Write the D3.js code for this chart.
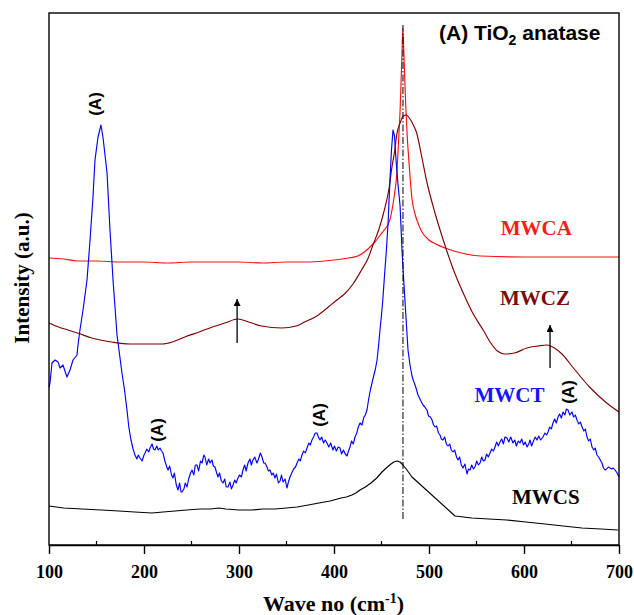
<!DOCTYPE html>
<html>
<head>
<meta charset="utf-8">
<script src="https://cdn.jsdelivr.net/npm/d3@7"></script>
<style>
  html, body { margin: 0; padding: 0; background: #fff; }
  svg { display: block; }
</style>
</head>
<body>
<script>
// Raman spectra, wave number (cm-1) vs intensity (a.u., offset stacked)
const waveTicks = [100, 200, 300, 400, 500, 600, 700];
const minorTicks = [150, 250, 350, 450, 550, 650];

const mwca = [[100,287],[115,286],[130,284],[150,284],[175,283],[200,283],[225,282],[250,283],[275,283],[300,283],[325,282],[350,283],[375,283],[400,285],[415,287],[425,289],[432,293],[438,298],[443,303],[448,309],[452,314],[456,319],[459,326],[462,340],[464,353],[466,370],[468,405],[469.5,433],[470.5,460],[471.5,490],[472.5,517],[473.5,493],[474.5,465],[475.5,440],[477,410],[479,382],[482,347],[485,332],[488,323],[491,316],[494,311],[500,305],[507,301],[517,297],[530,293],[554,289],[600,288],[650,288],[700,288]];

const mwcz = [[100,222],[110,218],[120,215],[130,212],[145,207],[166,203],[185,201],[201,201],[219,201],[230,203],[243,208],[258,213],[272,218],[285,222],[299,226],[310,223],[324,219],[345,217],[360,219],[369,223],[382,229],[394,238],[403,245],[411,251],[420,261],[429,275],[436,287],[441,300],[447,315],[453,335],[458,357],[461,378],[464,395],[466,410],[470,423],[473,429],[476,430],[480,426],[484,419],[487,412],[492,390],[498,362],[506,333],[515,305],[525,277],[536,252],[546,232],[557,215],[565,202],[572,194],[580,191],[590,192],[603,197],[615,199],[624,200],[632,197],[640,191],[652,177],[669,158],[687,142],[700,133]];

const mwct = [[100,158],[101,162],[103.2,182],[106.3,185],[109.5,183],[111.6,177],[114.7,180],[118.9,168],[122.1,175],[125.3,185],[129.5,190],[130.5,200],[132.6,215],[135.8,235],[140,265],[143.2,305],[146.3,348],[148.4,385],[151.6,408],[154.7,420],[156.8,408],[161.1,372],[164.2,315],[167.4,265],[171.6,210],[176.8,172],[179.5,155],[182.1,135],[184,118],[186.3,105],[188.5,96],[190.5,90],[192.5,86],[194,90],[195.8,87],[198,84],[200,90],[201.1,92],[203,96],[205,93],[206.3,97],[208.5,101],[210,96],[211.6,95],[213.5,99],[215,95],[216.8,97],[218.5,94],[220,92],[222,84],[224,78],[225.3,75],[227,79],[229,70],[230.5,67],[232,72],[234,60],[235.8,55],[237.5,62],[239,53],[240,53],[242,56],[243.5,62],[245.3,58],[247,66],[249,72],[250.5,75],[252.5,70],[254,80],[255.8,80],[257.5,74],[259.5,84],[261.1,82],[263,90],[264.2,88],[266,80],[268,86],[269.5,82],[271.5,85],[273,79],[274.7,78],[276.5,72],[277.9,68],[279.5,72],[281.5,64],[283.2,62],[285,66],[286.5,58],[288.4,58],[290.5,63],[292,56],[293.7,60],[295.5,65],[297,62],[298.9,67],[300.5,70],[302.5,68],[304.2,75],[306,80],[307.5,74],[309.5,82],[311.5,86],[313,80],[314.7,85],[316.5,88],[318.9,82],[320.5,86],[322.5,92],[324.2,88],[326,82],[327.4,82],[329.5,78],[331,74],[332.6,75],[334.5,70],[336,72],[337.9,67],[339.5,71],[341.5,62],[343.2,64],[344.8,70],[346.3,63],[348.5,66],[350.5,57],[352,63],[353.7,68],[355.5,72],[357.5,76],[359.5,78],[361.1,82],[363,86],[364.5,84],[366.3,90],[368,94],[369.8,92],[371.6,97],[373.5,102],[375,100],[376.8,105],[378.5,108],[380.3,112],[382.1,112],[383.6,108],[385.3,105],[387,108],[389,102],[390.8,105],[392.6,102],[394.5,98],[396.5,102],[398.9,95],[400.5,99],[402.5,94],[404.5,98],[406.3,97],[408,91],[410,95],[411.8,91],[413.7,89],[415.3,94],[416.8,98],[418.5,104],[420.3,101],[422.1,108],[424,112],[425.6,118],[427.4,122],[429.5,120],[431.5,128],[433,130],[434.7,135],[436.5,146],[438.3,155],[440,162],[442,170],[443.6,176],[445.3,185],[446.8,198],[448.4,215],[450,230],[451.6,248],[453.2,270],[454.8,290],[456.8,320],[458.9,365],[460.5,395],[462.1,415],[463.7,409],[465.3,385],[467.4,360],[469.5,340],[471.6,295],[473.7,260],[475.8,227],[477.9,195],[480,180],[482.1,169],[483.7,164],[485.3,160],[487,155],[488.4,150],[490,147],[492,143],[493.7,140],[495.7,138],[497.9,135],[499.5,129],[501.5,128],[503.2,125],[504.8,120],[506.3,118],[508,119],[510,112],[511.6,110],[513,106],[514.7,105],[516.5,108],[518.3,101],[520,99],[521.8,101],[523.5,95],[525.3,93],[527,95],[529,88],[530.5,85],[532.3,88],[534,80],[535.8,77],[537.8,81],[540,71],[541.6,76],[543.2,75],[545,80],[546.8,76],[548.4,78],[550.2,84],[552,80],[553.7,82],[555.5,88],[557.3,84],[558.9,85],[560.6,91],[562.4,88],[564.2,92],[566,96],[567.8,94],[569.5,98],[571.2,103],[573,99],[574.7,103],[576.5,106],[578.3,101],[580,108],[582.1,107],[584,103],[586,108],[588.4,102],[590.3,105],[592,99],[594,104],[595.8,102],[597.6,106],[599.5,100],[601.3,103],[603.2,98],[605,101],[606.3,105],[608,99],[610,104],[611.8,108],[613.7,105],[615.5,109],[617.5,105],[620,108],[622,112],[623.8,110],[625.3,113],[627,118],[628.8,116],[630.5,122],[632.3,126],[634,122],[635.8,128],[637.5,131],[639.3,127],[641.1,133],[643,130],[644.6,136],[646.3,135],[648.3,130],[650.5,133],[652.3,128],[654,130],[655.8,125],[657.6,121],[659.4,123],[661.1,118],[663,114],[664.6,116],[666.3,108],[668,104],[669.8,106],[671.6,98],[673.5,95],[675,97],[676.8,90],[678.5,88],[680.3,85],[682.1,82],[683.7,77],[685.3,75],[687,76],[688.8,78],[690.5,77],[692.3,76],[694,77],[695.8,75],[698,72],[700,68]];

const mwcs = [[100,39],[115.3,37],[134.7,36],[155,35],[173.7,34],[190,33],[208.4,32],[220,33],[232.6,34],[245,35],[258.9,36],[270,36],[278.9,37],[286.3,36],[300,35],[313.7,35],[325,36],[337.9,36],[350,37],[361.1,38],[373,40],[384.2,42],[396,44],[407.4,47],[413,48],[418.9,50],[423,52],[427.4,55],[433,58],[438.9,62],[445,67],[450.5,73],[455,77],[460,81],[463,83],[466.3,84],[469.5,83],[472.6,80],[476,76],[482.1,68],[527.4,29],[545,27],[563.2,26],[582,25],[602.1,23],[622,21],[641.1,19],[661,17],[681.1,16],[698.9,15]];

const seriesNames = ["MWCA", "MWCZ", "MWCT", "MWCS"];
const seriesData = [mwca, mwcz, mwct, mwcs];
const seriesColors = ["#ff1010", "#800000", "#0000ff", "#000000"];
const textColors = ["#ff1a1a", "#7a0e0e", "#1414ff", "#000000"];
// smooth spectra get a monotone curve; the noisy and the kinked ones stay linear
const seriesSmooth = [true, true, false, false];
// label anchors [wave number, intensity]
const seriesLabelAt = [[613, 310], [611.6, 240], [584.7, 143], [623, 41]];

const anataseMarks = [[148.4, 441], [213.7, 115], [384.2, 130], [646.3, 153]];
const arrows = [[298, 202, 246], [627.4, 177, 220]];
const guideLine = [472.6, 26, 520];

const W = 634, H = 615;
const margin = { left: 49, right: 15, top: 13, bottom: 70 };
const iw = W - margin.left - margin.right;   // 570
const ih = H - margin.top - margin.bottom;   // 532

const svg = d3.select("body").append("svg").attr("width", W).attr("height", H);
const g = svg.append("g").attr("transform", `translate(${margin.left},${margin.top})`);

const x = d3.scaleLinear().domain([100, 700]).range([0, iw]);
const y = d3.scaleLinear().domain([0, 532]).range([ih, 0]);

const smoothLine = d3.line().x(d => x(d[0])).y(d => y(d[1])).curve(d3.curveMonotoneX);
const rawLine = d3.line().x(d => x(d[0])).y(d => y(d[1]));

// curves
seriesData.forEach((s, i) => {
  g.append("path").datum(s)
    .attr("d", seriesSmooth[i] ? smoothLine : rawLine)
    .attr("fill", "none")
    .attr("stroke", seriesColors[i])
    .attr("stroke-width", 1.15)
    .attr("stroke-linejoin", "round");
});

// dash-dot guide at the main Eg mode
g.append("line")
  .attr("x1", x(guideLine[0])).attr("x2", x(guideLine[0]))
  .attr("y1", y(guideLine[1])).attr("y2", y(guideLine[2]))
  .attr("stroke", "#000").attr("stroke-width", 1)
  .attr("stroke-dasharray", "7,2,1.5,2");

// arrows
svg.append("defs").append("marker")
  .attr("id", "head").attr("viewBox", "0 0 10 10")
  .attr("refX", 10).attr("refY", 5)
  .attr("markerWidth", 7).attr("markerHeight", 7)
  .attr("markerUnits", "userSpaceOnUse")
  .attr("orient", "auto")
  .append("path").attr("d", "M0,0 L10,5 L0,10 z").attr("fill", "#000");

arrows.forEach(a => {
  g.append("line")
    .attr("x1", x(a[0])).attr("x2", x(a[0]))
    .attr("y1", y(a[1])).attr("y2", y(a[2]))
    .attr("stroke", "#000").attr("stroke-width", 1.3)
    .attr("marker-end", "url(#head)");
});

// (A) anatase markers
anataseMarks.forEach(m => {
  g.append("text")
    .attr("transform", `translate(${x(m[0]) + 6},${y(m[1])}) rotate(-90)`)
    .attr("text-anchor", "middle")
    .attr("font-family", "Liberation Sans, Arial, sans-serif")
    .attr("font-weight", "bold")
    .attr("font-size", 17)
    .text("(A)");
});

// sample labels
seriesNames.forEach((n, i) => {
  g.append("text")
    .attr("x", x(seriesLabelAt[i][0])).attr("y", y(seriesLabelAt[i][1]))
    .attr("text-anchor", "middle")
    .attr("font-family", "Liberation Serif, Times New Roman, serif")
    .attr("font-weight", "bold")
    .attr("font-size", 21)
    .attr("fill", textColors[i])
    .text(n);
});

// frame
g.append("rect").attr("x", 0).attr("y", 0).attr("width", iw).attr("height", ih)
  .attr("fill", "none").attr("stroke", "#000").attr("stroke-width", 1.4);

// bottom axis
const xAxis = d3.axisBottom(x).tickValues(waveTicks).tickSize(9).tickSizeOuter(0).tickPadding(11)
  .tickFormat(d3.format("d"));
const ax = g.append("g").attr("transform", `translate(0,${ih})`).call(xAxis);
ax.select(".domain").attr("stroke-width", 1.4);
ax.selectAll(".tick line").attr("stroke-width", 1.4);
ax.selectAll(".tick text")
  .attr("font-family", "Liberation Serif, Times New Roman, serif")
  .attr("font-weight", "bold").attr("font-size", 18).attr("fill", "#000");

// minor ticks pointing inward
g.append("g").selectAll("line").data(minorTicks).join("line")
  .attr("x1", d => x(d)).attr("x2", d => x(d))
  .attr("y1", ih).attr("y2", ih - 4)
  .attr("stroke", "#000").attr("stroke-width", 1.2);

// axis titles
const xt = svg.append("text")
  .attr("x", 333.5).attr("y", 611)
  .attr("text-anchor", "middle")
  .attr("font-family", "Liberation Serif, Times New Roman, serif")
  .attr("font-weight", "bold").attr("font-size", 22);
xt.append("tspan").text("Wave no (cm");
xt.append("tspan").attr("dy", -8).attr("font-size", 14).text("-1");
xt.append("tspan").attr("dy", 8).text(")");

svg.append("text")
  .attr("transform", "translate(29,278) rotate(-90)")
  .attr("text-anchor", "middle")
  .attr("font-family", "Liberation Serif, Times New Roman, serif")
  .attr("font-weight", "bold").attr("font-size", 21)
  .text("Intensity (a.u.)");

// panel title
const tt = svg.append("text")
  .attr("x", 439).attr("y", 40)
  .attr("font-family", "Liberation Sans, Arial, sans-serif")
  .attr("font-weight", "bold").attr("font-size", 21);
tt.append("tspan").text("(A) TiO");
tt.append("tspan").attr("dy", 5).attr("font-size", 14).text("2");
tt.append("tspan").attr("dy", -5).text(" anatase");
</script>
</body>
</html>
